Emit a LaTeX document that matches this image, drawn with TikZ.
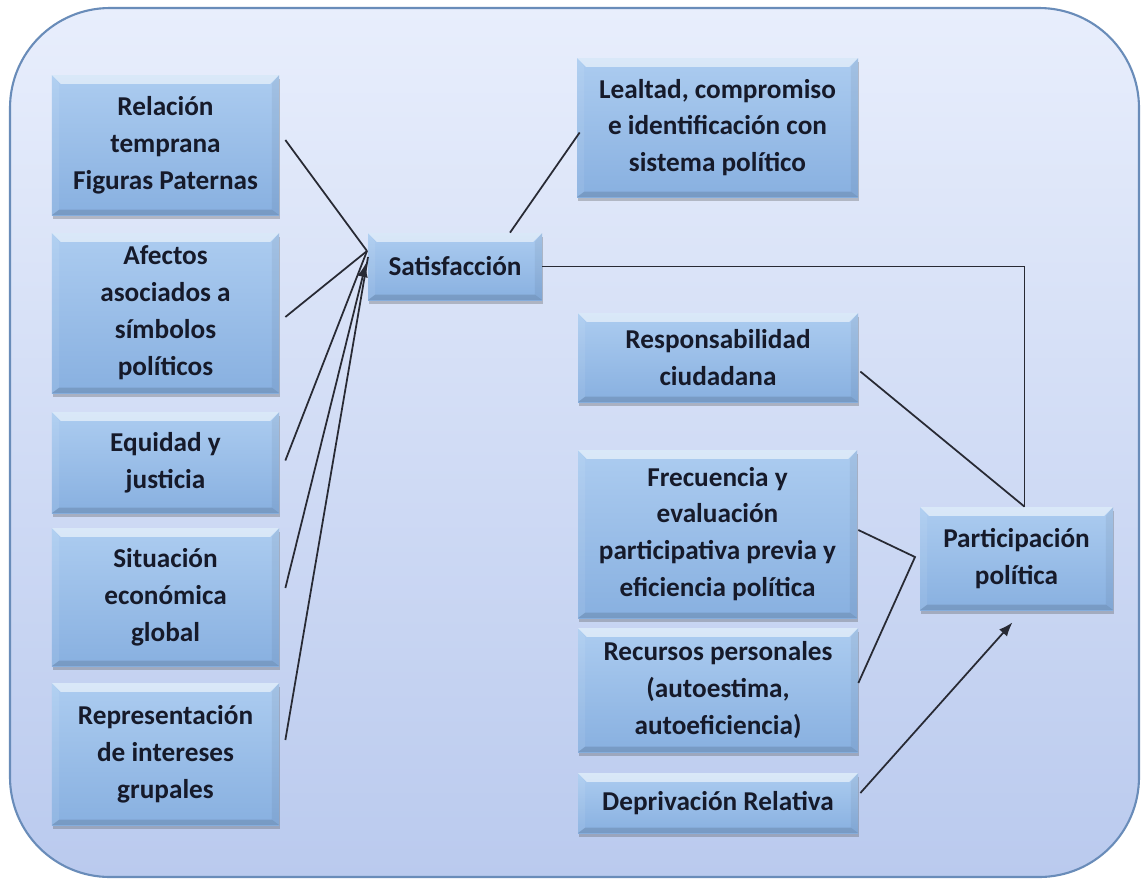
\documentclass[tikz,border=0pt]{standalone}
\usepackage{fontspec}
\setmainfont{Carlito}
\usetikzlibrary{shadows,arrows.meta,calc}
\definecolor{bgtop}{RGB}{232,238,252}
\definecolor{bgbot}{RGB}{186,202,238}
\definecolor{frame}{RGB}{105,140,185}
\definecolor{boxtop}{RGB}{172,204,240}
\definecolor{boxbot}{RGB}{136,176,224}
\definecolor{txt}{RGB}{22,26,42}
\definecolor{ln}{RGB}{40,42,52}
\tikzset{
 box/.style={top color=boxtop,bottom color=boxbot,draw=none,align=center,inner sep=0pt,
   text=txt,font=\fontsize{15.5}{21}\selectfont\bfseries,
   drop shadow={shadow xshift=0.6pt,shadow yshift=-2pt,opacity=0.3,fill=black!70},
   path picture={
     \fill[white,opacity=0.55] (path picture bounding box.north west) -- (path picture bounding box.north east)
        -- ([shift={(-5pt,-5pt)}]path picture bounding box.north east) -- ([shift={(5pt,-5pt)}]path picture bounding box.north west) -- cycle;
     \fill[black,opacity=0.12] (path picture bounding box.south west) -- (path picture bounding box.south east)
        -- ([shift={(-4pt,3pt)}]path picture bounding box.south east) -- ([shift={(4pt,3pt)}]path picture bounding box.south west) -- cycle;
     \fill[black,opacity=0.05] (path picture bounding box.north east) -- (path picture bounding box.south east)
        -- ([shift={(-4pt,3pt)}]path picture bounding box.south east) -- ([shift={(-4pt,-5pt)}]path picture bounding box.north east) -- cycle;
     \fill[white,opacity=0.08] (path picture bounding box.north west) -- (path picture bounding box.south west)
        -- ([shift={(4pt,3pt)}]path picture bounding box.south west) -- ([shift={(4pt,-5pt)}]path picture bounding box.north west) -- cycle;
   }},
 conn/.style={draw=ln,line width=1pt},
 arr/.style={conn,-{Latex[length=8pt,width=6pt]}}
}
\newcommand\bx[6]{%
 \pgfmathsetmacro\bxw{(#4-#2)*0.02}%
 \pgfmathsetmacro\bxh{(#5-#3)*0.02}%
 \pgfmathsetmacro\bxx{(#2+#4)/2}%
 \pgfmathsetmacro\bxy{(#3+#5)/2}%
 \node[box,minimum width=\bxw cm,minimum height=\bxh cm] (#1) at (\bxx,\bxy) {#6};}
\begin{document}
\begin{tikzpicture}[x=0.02cm,y=-0.02cm]
\useasboundingbox (0,0) rectangle (1142,880);
\fill[white] (0,0) rectangle (1142,880);
\shadedraw[top color=bgtop,bottom color=bgbot,draw=frame,line width=1.2pt,rounded corners=2cm] (10,8) rectangle (1139,877);

\bx{rel}{52}{75}{279}{215}{Relación\\temprana\\Figuras Paternas}
\bx{afe}{52}{233}{279}{393}{Afectos\\asociados a\\símbolos\\políticos}
\bx{equ}{52}{412}{279}{513}{Equidad y\\justicia}
\bx{sit}{52}{528}{279}{666}{Situación\\económica\\global}
\bx{rep}{52}{683}{279}{825}{Representación\\de intereses\\grupales}
\bx{sat}{368}{233}{542}{300}{Satisfacción}
\bx{lea}{577}{58}{858}{197}{Lealtad, compromiso\\e identificación con\\sistema político}
\bx{res}{578}{313}{858}{402}{Responsabilidad\\ciudadana}
\bx{fre}{578}{450}{857}{618}{Frecuencia y\\evaluación\\participativa previa y\\eficiencia política}
\bx{rec}{578}{628}{858}{752}{Recursos personales\\(autoestima,\\autoeficiencia)}
\bx{dep}{578}{773}{858}{833}{Deprivación Relativa}
\bx{par}{920}{507}{1113}{610}{Participación\\política}

\coordinate (cv) at (367,251);
\coordinate (cva) at (366,263);
\coordinate (cvb) at (368,257);
\draw[conn] ($(rel.east)+(6,-5)$) -- (cv);
\draw[conn] ($(afe.east)+(6,4)$) -- (cv);
\draw[conn] ($(equ.east)+(6,-2)$) -- (cv);
\draw[arr] ($(sit.east)+(6,-9)$) -- (cva);
\draw[conn] ($(rep.east)+(6,-14)$) -- (cvb);

\draw[conn] ($(sat.north)+(55,0)$) -- ($(lea.west)+(3,5)$);
\coordinate (j) at ($(par.north)+(8,0)$);
\draw[conn] (sat.east) -- (sat.east -| j) -- (j);
\draw[conn] ($(res.east)+(2,14)$) -- (j);
\coordinate (br) at (915,557);
\draw[conn] ($(fre.east)+(1,-4)$) -- (br) -- ($(rec.east)+(0,-7)$);
\draw[arr] ($(dep.east)+(2,-10)$) -- ($(par.south)+(-4,12)$);
\end{tikzpicture}
\end{document}
